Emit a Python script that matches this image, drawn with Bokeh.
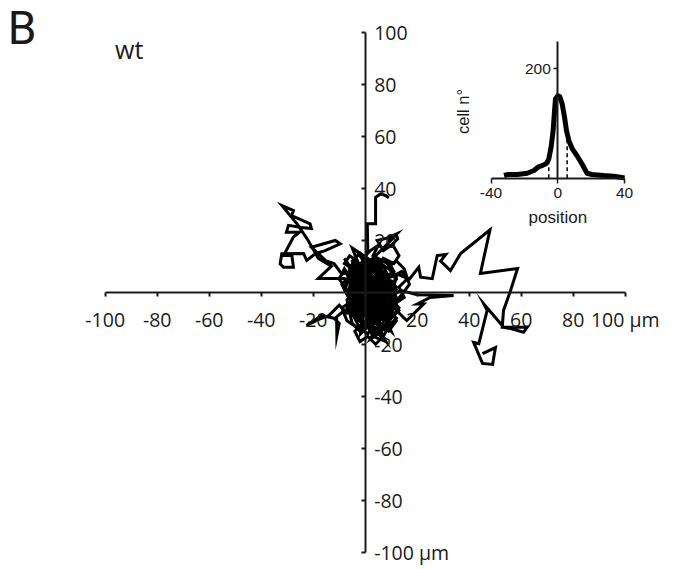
from bokeh.plotting import figure
from bokeh.models import Range1d, LinearAxis, FixedTicker, Label
from bokeh.core.properties import value
from bokeh.embed import file_html
from bokeh.resources import INLINE
import math

# ---------------- data ----------------
x_ticks = [-100, -80, -60, -40, -20, 0, 20, 40, 60, 80, 100]
x_tick_labels = ["-100", "-80", "-60", "-40", "-20", "", "20", "40", "60", "80", "100 µm"]
y_ticks = [-100, -80, -60, -40, -20, 0, 20, 40, 60, 80, 100]
y_tick_labels = ["-100 µm", "-80", "-60", "-40", "-20", "", "20", "40", "60", "80", "100"]

# cell tracks (um), each starting at the origin
track1_x = [0, 2, 5, 3, 7, 10, 8, 12.3, 17, 20.6, 21.3, 25.8, 27.7, 31, 29, 32.8, 36.7, 48, 44.3, 58.6, 55.9, 53.2, 52.7, 62.3, 60.9, 56, 53.3, 45.6, 46.9, 43.7, 41.7, 45.1, 49, 50.1, 45.1]
track1_y = [0, 3, 1, -3, -1, 2, 5, 7, 5, 9.6, 5.8, 5.2, 14.1, 14.5, 12, 8.3, 14.9, 24, 7.2, 9.1, 0.6, -7, -13.5, -13.5, -15.4, -14, -13.5, -4.5, -7, -19.8, -19.3, -27.4, -27.8, -21.3, -23.6]
track2_x = [0, -3, -6, -4, -9, -12, -15, -20.7, -11.5, -9.6, -15.4, -19.2, -22.5, -23.7, -32.1, -32.7, -31.4, -27.6, -28.2, -31.4, -27.6, -25.3, -30.3, -29.5, -24.5, -20.7, -21.2, -28.3, -27.6, -32, -26, -22, -18, -13, -18, -8, -4]
track2_y = [0, 4, 2, 8, 7, 11, 12, 17.3, 19.9, 18.6, 16, 14.8, 12.2, 14.9, 14.8, 10.9, 9.6, 9.6, 14.1, 14.1, 21.2, 23.1, 23.1, 25.7, 24.9, 24.5, 26.3, 29.5, 31.4, 33.3, 26, 20, 13, 10, 5.3, 5.3, 3]
track3_x = [0, 2, -1, 1, 0.8, 4, 4, 5.9, 7.8, 9.1]
track3_y = [0, 6, 10, 16, 26.3, 26.3, 36.5, 37.8, 37.2, 36.3]
track4_x = [0, 3, 6, 4, 8, 12.3, 9, 4.6, 7, 10, 12.5, 12, 9.5, 9, 11, 13, 11, 7, 5, 8, 3, 1]
track4_y = [0, 4, 9, 14, 18, 22.5, 21, 19.9, 16, 18, 20.5, 22, 21.5, 18.5, 17.5, 14, 11, 13, 8, 5, 6, 2]
track5_x = [0, -3, -6, -5, -8, -11, -10.9, -10, -12, -16.8, -22.6, -19, -22, -16, -14, -10, -7, -4, -1]
track5_y = [0, -3, -2, -6, -7, -9.5, -16.7, -12, -10, -9, -12.8, -11, -12, -9.8, -9, -5, -8, -4, -2]
track6_x = [0, 2, -1, -1.8, 1, 3, 7, 5, 9, 6, 3, 1]
track6_y = [0, -5, -10, -16, -13, -17, -18.6, -14, -12, -8, -9, -4]
track7_x = [0, 4, 8, 11, 13.6, 20, 34, 25, 20, 22.5, 16, 15, 11, 8, 4]
track7_y = [0, -2, 1, -1, 0.7, -1, -1.3, -2, -4.5, -4.5, -10.9, -10, -6, -8, -3]
track8_x = [0, -3, -5, -2, 1, 4, 2, -1, -4, -6, -3, 0, 3, 6, 8, 5, 2, -1, -3, 0, 4, 7, 9, 6, 3, 0, -2, 1, 5, 8]
track8_y = [0, 2, -1, -4, -2, -5, -8, -6, -9, -5, -3, -7, -10, -6, -3, -1, 2, 4, 1, -2, 0, 3, -1, -4, -2, 1, 5, 7, 4, 6]
track9_x = [0, 2, 6, 9, 11, 8, 10, 12, 9, 6, 4, 7, 10, 12, 9, 5, 3, 6, 8, 4, 1, -2, 0, 3, 5, 2, -1, -4, -2, 1]
track9_y = [0, -3, -2, -5, -2, 0, 4, 1, -3, -6, -9, -11, -8, -4, -7, -8, -5, -3, 2, 3, 6, 3, 9, 11, 8, 12, 9, 11, 6, 3]
track10_x = [0, -2, -4, -7, -5, -8, -6, -3, -1, -4, -7, -5, -2, 1, -1, 2, 5, 3, 6, 9, 7, 4, 1, -2, -5, -3, 0, 3, 1, -1]
track10_y = [0, 3, 6, 4, 9, 11, 14, 12, 8, 10, 7, 2, 4, 1, -3, -5, -2, 2, 5, 3, 8, 10, 13, 15, 12, 7, 9, 6, 2, -1]
track11_x = [0, 3, 1, 4, 7, 5, 8, 11, 13, 10, 12, 9, 6, 3, 0, -3, -6, -8, -5, -7, -4, -1, 2, 5, 7, 4, 1, -2, -5, -2]
track11_y = [0, -1, -4, -7, -5, -9, -11, -9, -6, -3, 2, 5, 7, 9, 6, 8, 5, 1, -2, -6, -10, -12, -9, -12, -8, -5, -7, -5, -8, -11]
track12_x = [0, 1, 4, 6, 3, 5, 9, 11, 8, 5, 2, -1, -3, -6, -4, -1, 2, 0, -3, -5, -2, 1, 4, 7, 10, 12, 10, 7, 4, 2]
track12_y = [0, 5, 3, 7, 10, 13, 11, 8, 6, 8, 10, 12, 9, 8, 4, 6, 3, -1, -2, -6, -8, -5, -7, -4, -6, -2, 1, -1, 2, 0]
track13_x = [0, -2, -5, -7, -6, -3, -1, 2, 4, 2, 5, 8, 11, 9, 6, 8, 5, 2, -1, -4, -6, -4, -2, 1, 3, 6, 9, 12, 10, 7]
track13_y = [0, -2, 0, -3, -7, -9, -12, -11, -8, -5, -4, -7, -4, -1, 1, 5, 7, 4, 2, 4, 1, -2, -5, -3, -6, -3, 0, -3, -6, -9]
track14_x = [0, 2, 4, 1, -2, -4, -1, 1, 3, 6, 8, 5, 7, 4, 2, 0, -3, -1, 2, 5, 3, 0, -2, 1, 4, 6, 3, 1]
track14_y = [0, 2, -1, -3, -1, 2, 4, 1, 5, 3, 0, -2, -5, -7, -4, -6, -4, -8, -9, -7, -3, -5, 1, 3, 1, -1, -2, 1]
track15_x = [0, 3, 5, 2, 4, 7, 10, 8, 11, 9, 6, 3, 1, -2, -4, -1, 2, 5, 8, 10, 7, 4, 2, -1, -3, -5, -2, 1, 4, 6]
track15_y = [0, -4, -8, -11, -14, -12, -15, -10, -8, -5, -7, -13, -16, -14, -10, -7, -9, -11, -9, -4, -2, -5, -1, -3, -6, -2, 1, -2, 0, -3]
track16_x = [0, -3, -5, -2, 0, 3, 6, 9, 12, 10, 7, 9, 11, 8, 5, 2, 0, -3, -6, -4, -1, 3, 6, 8, 5, 1, -2, -4, -1, 2]
track16_y = [0, -3, -7, -10, -13, -15, -13, -15, -11, -7, -9, -4, 0, 3, 1, 4, 8, 6, 9, 12, 10, 12, 9, 5, 2, 5, 2, -2, -5, -3]
track17_x = [0, 2, 5, 7, 4, 1, -2, -5, -3, 0, 3, 6, 9, 11, 12, 9, 6, 3, 0, -3, -6, -4, -1, 2, 5, 8, 10, 7, 4, 1]
track17_y = [0, 3, 1, 5, 8, 10, 7, 5, 1, -2, -1, 1, -2, 2, 6, 9, 11, 13, 11, 9, 4, 0, -4, -7, -5, -8, -12, -14, -12, -9]
track18_x = [0, 4, 7, 5, 2, -1, -4, -6, -5, -2, 1, 4, 7, 10, 13, 11, 8, 5, 3, 0, -2, 0, 3, 6, 9, 7, 4, 1, -1, -4]
track18_y = [0, 1, -2, -6, -4, -7, -5, -8, -12, -15, -12, -16, -13, -10, -7, -3, -6, -9, -5, -8, -4, 2, 5, 3, 6, 10, 7, 9, 5, 7]
track19_x = [0, -2, 1, 3, 6, 4, 7, 10, 8, 5, 3, 0, -3, -5, -7, -4, -1, 2, 0, -2, 1, 4, 7, 10, 12, 9, 6, 4, 2, -1]
track19_y = [0, -5, -8, -5, -7, -10, -13, -10, -6, -4, -1, -3, -1, -4, 0, 3, 5, 8, 11, 14, 12, 10, 12, 10, 5, 3, 6, 2, -2, -1]
track20_x = [0, -4, -7, -9, -6, -8, -10, -7, -4, -6, -3, 0, 2, -1, -4, -7, -9, -6, -3, -1]
track20_y = [0, 2, -1, 3, 6, 9, 5, 1, -3, -7, -10, -8, -12, -15, -13, -11, -6, -4, -7, -3]
track21_x = [0, 4, 8, 12, 15, 13, 16, 14, 11, 9, 12, 15, 17, 14, 10, 7, 9, 12, 8, 4]
track21_y = [0, -3, -1, -4, -2, 2, 5, 8, 6, 10, 12, 9, 3, -1, -6, -9, -13, -10, -7, -4]
track22_x = [0, -2, 1, -1, 2, 5, 3, 6, 4, 1, -2, -5, -3, -6, -8, -5, -2, 1, 3, 0]
track22_y = [0, 5, 9, 13, 16, 18, 14, 12, 9, 11, 15, 17, 12, 10, 13, 8, 6, 3, -2, -4]
track23_x = [0, 3, 1, 4, 2, 5, 8, 6, 9, 7, 4, 1, -2, -4, -1, -3, 0, 3, 6, 2]
track23_y = [0, -6, -11, -14, -18, -16, -19, -15, -13, -17, -20, -17, -19, -15, -12, -8, -6, -9, -5, -2]

tracks_x = [track1_x, track2_x, track3_x, track4_x, track5_x, track6_x, track7_x,
            track8_x, track9_x, track10_x, track11_x, track12_x, track13_x, track14_x,
            track15_x, track16_x, track17_x, track18_x, track19_x, track20_x, track21_x,
            track22_x, track23_x]
tracks_y = [track1_y, track2_y, track3_y, track4_y, track5_y, track6_y, track7_y,
            track8_y, track9_y, track10_y, track11_y, track12_y, track13_y, track14_y,
            track15_y, track16_y, track17_y, track18_y, track19_y, track20_y, track21_y,
            track22_y, track23_y]

# inset distribution
inset_pos = [-32.2, -30.2, -24.3, -18.3, -14.3, -11.3, -9.4, -6.8, -5.4, -4.0, -2.8, -2.0, -1.4, 0, 1.2, 2.6, 4.0, 5.2, 6.6, 8.6, 11.5, 14.5, 17.5, 20.5, 23.5, 27.5, 33.4, 37.4, 40.0]
inset_count = [4.9, 6.7, 6.7, 9.1, 14, 21.3, 23, 27, 35, 57, 87, 121, 145, 151, 149, 136, 112, 87, 69, 54, 41, 26, 9, 6.7, 6, 4.9, 3.7, 1.8, 0.6]
inset_dash_x = [-5.4, 5.6]
inset_dash_top = [29, 74]
inset_x_ticks = [-40, 0, 40]
inset_x_tick_labels = ["-40", "0", "40"]
inset_y_ticks = [200]

# ---------------- layout ----------------
W, H = 672, 565
OX, OY, S = 364.7, 291.7, 2.6          # px of main origin, px per um
x0, x1 = -OX / S, (W - OX) / S
y1, y0 = OY / S, -(H - OY) / S

IOX, IOY = 557.3, 177.7                 # px of inset origin
ISX, ISY = 133.6 / 80, 109.4 / 200
ix0 = -IOX / ISX
ix1 = ix0 + W / ISX
iy1 = IOY / ISY
iy0 = iy1 - H / ISY

INK = "#1a1a1a"

p = figure(width=W, height=H, x_range=Range1d(x0, x1), y_range=Range1d(y0, y1),
           output_backend="svg", toolbar_location=None, min_border=0,
           x_axis_location=None, y_axis_location=None, outline_line_color=None)
p.grid.visible = False
p.extra_x_ranges = {"ix": Range1d(ix0, ix1)}
p.extra_y_ranges = {"iy": Range1d(iy0, iy1)}

# trajectories
p.multi_line(xs=tracks_x, ys=tracks_y, line_color="black", line_width=3, line_join="miter")

def style_axis(ax, font, size):
    ax.axis_line_color = INK
    ax.major_tick_line_color = INK
    ax.minor_tick_line_color = None
    ax.major_label_text_color = INK
    ax.major_label_text_font = font
    ax.major_label_text_font_size = size

xa = LinearAxis(fixed_location=0, bounds=(-100, 100), ticker=FixedTicker(ticks=x_ticks),
                major_label_overrides=dict(zip(x_ticks, x_tick_labels)))
style_axis(xa, "Open Sans", "19.5px")
xa.axis_line_width = 2
xa.major_tick_line_width = 2
xa.major_tick_out = 4
xa.major_tick_in = 0
xa.major_label_standoff = 10
p.add_layout(xa, "below")

ya = LinearAxis(fixed_location=0, bounds=(-100, 100), ticker=FixedTicker(ticks=y_ticks),
                major_label_overrides=dict(zip(y_ticks, y_tick_labels)))
style_axis(ya, "Open Sans", "19.5px")
ya.axis_line_width = 2
ya.major_tick_line_width = 2
ya.major_tick_out = 0
ya.major_tick_in = 4
ya.major_label_standoff = 9
p.add_layout(ya, "right")

# inset
p.segment(x0=inset_dash_x, y0=[0] * len(inset_dash_x), x1=inset_dash_x, y1=inset_dash_top,
          x_range_name="ix", y_range_name="iy", line_color="black", line_width=1.5, line_dash="4 3")
p.line(inset_pos, inset_count, x_range_name="ix", y_range_name="iy",
       line_color="black", line_width=5, line_join="round")

ixa = LinearAxis(x_range_name="ix", y_range_name="iy", fixed_location=0, bounds=(-40, 40),
                 ticker=FixedTicker(ticks=inset_x_ticks),
                 major_label_overrides=dict(zip(inset_x_ticks, inset_x_tick_labels)))
style_axis(ixa, "Liberation Sans", "15.5px")
ixa.axis_line_width = 2
ixa.major_tick_line_width = 1.5
ixa.major_tick_out = 5
ixa.major_tick_in = 0
ixa.major_label_standoff = 5
p.add_layout(ixa, "below")

iya = LinearAxis(x_range_name="ix", y_range_name="iy", fixed_location=0, bounds=(0, 250),
                 ticker=FixedTicker(ticks=inset_y_ticks))
style_axis(iya, "Liberation Sans", "15.5px")
iya.axis_line_width = 2
iya.major_tick_line_width = 1.5
iya.major_tick_out = 4
iya.major_tick_in = 0
iya.major_label_standoff = 3
p.add_layout(iya, "left")

p.add_layout(Label(x=-57, y=122, x_range_name="ix", y_range_name="iy", text="cell n°",
                   angle=math.pi / 2, text_align="center", text_baseline="middle",
                   text_font="Liberation Sans", text_font_size="16.5px", text_color=INK))
p.add_layout(Label(x=0, y=-72, x_range_name="ix", y_range_name="iy", text="position",
                   text_align="center", text_baseline="alphabetic",
                   text_font="Liberation Sans", text_font_size="17px", text_color=INK))

# panel letter and genotype
p.text(x=[-137.5], y=[112.0], text=["B"], text_align="left", text_baseline="top",
       text_font=value("Roboto"), text_font_size="46px", text_color=INK)
p.text(x=[-96.2], y=[93.6], text=["wt"], text_align="left", text_baseline="alphabetic",
       text_font=value("Open Sans"), text_font_size="25px", text_color=INK)

open("out.html", "w").write(file_html(p, INLINE))
